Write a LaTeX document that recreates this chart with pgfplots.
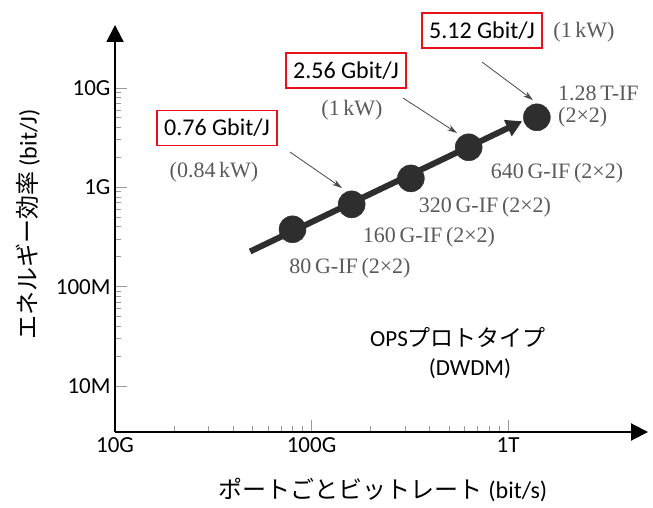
\documentclass[border=0pt]{standalone}
\usepackage{fontspec}
\setmainfont{Carlito}
\newfontfamily\cjk{Noto Sans CJK JP}
\newfontfamily\mincho{Liberation Serif}
\usepackage{pgfplots}
\pgfplotsset{compat=1.18}
\usetikzlibrary{arrows.meta}
\definecolor{dotc}{HTML}{2E2E2E}
\definecolor{annot}{HTML}{5A5A5A}
\definecolor{boxred}{HTML}{E8101A}
\definecolor{tickc}{HTML}{9A9A9A}
\begin{document}
\begin{tikzpicture}
\begin{scope}[x=1pt,y=-1pt]
\path[use as bounding box] (0,0) rectangle (653,507);
\end{scope}
\begin{axis}[
  at={(115pt,-432pt)}, anchor=south west,
  scale only axis, width=533pt, height=407pt,
  xmode=log, ymode=log,
  xmin=1e10, xmax=5.15e12,
  ymin=3.44e6, ymax=4.31e10,
  axis lines=left,
  axis line style={line width=2pt, -{Triangle[length=17pt,width=17pt]}},
  tick align=inside,
  major tick length=12pt, minor tick length=6pt,
  tick style={color=tickc, line width=0.9pt},
  xtick={1e10,1e11,1e12}, xticklabels={10G,100G,1T},
  ytick={1e7,1e8,1e9,1e10}, yticklabels={10M,100M,1G,10G},
  minor xtick={2e10,3e10,4e10,5e10,6e10,7e10,8e10,9e10,2e11,3e11,4e11,5e11,6e11,7e11,8e11,9e11},
  minor ytick={2e7,3e7,4e7,5e7,6e7,7e7,8e7,9e7,2e8,3e8,4e8,5e8,6e8,7e8,8e8,9e8,2e9,3e9,4e9,5e9,6e9,7e9,8e9,9e9},
  ticklabel style={font=\fontsize{23}{27}\selectfont, text=black},
  xticklabel style={yshift=-2pt},
  yticklabel style={xshift=-1pt},
  xlabel={{\cjk ポートごとビットレート} (bit/s)},
  ylabel={{\cjk エネルギー効率} (bit/J)},
  label style={font=\fontsize{24}{28}\selectfont},
  xlabel style={at={(axis description cs:0.503,-0.1425)}, anchor=center},
  ylabel style={at={(axis description cs:-0.163,0.51)}, anchor=center},
  clip=false,
]
\addplot[line width=6pt, color=dotc, -{Triangle[length=16pt,width=17pt]}]
  coordinates {(4.87e10,2.26e8) (1.18e12,4.63e9)};
\addplot[only marks, mark=*, mark size=13.5pt, color=dotc, fill=dotc]
  coordinates {(8e10,3.78e8) (1.6e11,6.74e8) (3.2e11,1.23e9) (6.3e11,2.53e9) (1.4e12,5.07e9)};
\end{axis}
\begin{scope}[x=1pt,y=-1pt]
  % red boxes
  \foreach \cx/\cy/\t in {217/128/0.76, 346/70.5/2.56, 482/30.5/5.12}{
    \node[draw=boxred, line width=1.5pt, minimum width=120pt, minimum height=35pt, inner sep=0pt,
      font=\fontsize{24}{28}\selectfont] at (\cx,\cy) {\t\ Gbit/J};
  }
  % thin arrows
  \draw[line width=0.8pt, color=annot!80!black, -{Stealth[length=10pt,width=6pt]}] (290,152) -- (342,188);
  \draw[line width=0.8pt, color=annot!80!black, -{Stealth[length=10pt,width=6pt]}] (403,98) -- (457,133);
  \draw[line width=0.8pt, color=annot!80!black, -{Stealth[length=10pt,width=6pt]}] (482,62) -- (533,100);
  % gray annotations
  \begin{scope}[every node/.style={text=annot, font=\mincho\fontsize{22}{25}\selectfont, inner sep=0pt}]
    \node at (214,172) {(0.84\,kW)};
    \node at (352,110) {(1\,kW)};
    \node at (584,32) {(1\,kW)};
    \node at (350,268) {80\,G-IF\,(2×2)};
    \node at (429,237) {160\,G-IF\,(2×2)};
    \node at (485,207) {320\,G-IF\,(2×2)};
    \node at (557,173) {640\,G-IF\,(2×2)};
    \node[anchor=west] at (558,93) {1.28\,T-IF};
    \node[anchor=west] at (558,117) {(2×2)};
  \end{scope}
  \node[font=\fontsize{23}{27}\selectfont] at (458,337) {OPS{\cjk プロトタイプ}};
  \node[font=\fontsize{23}{27}\selectfont] at (470,369) {(DWDM)};
\end{scope}
\end{tikzpicture}
\end{document}
